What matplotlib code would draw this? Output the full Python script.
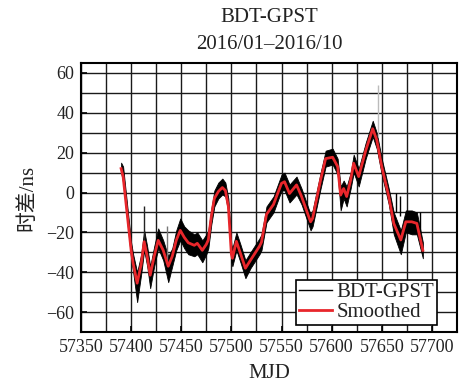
import matplotlib
matplotlib.use("Agg")
import matplotlib.pyplot as plt
from matplotlib.lines import Line2D
from matplotlib.ticker import MultipleLocator

plt.rcParams['font.family'] = ['Liberation Serif', 'Noto Sans CJK SC', 'DejaVu Sans']
plt.rcParams['axes.unicode_minus'] = True

# smoothed curve
mjd = [57390, 57392, 57400, 57402, 57406, 57410, 57413, 57416, 57419, 57423,
       57427, 57432, 57437, 57441, 57445, 57449, 57453, 57457, 57463, 57466,
       57471, 57475, 57477, 57480, 57483, 57487, 57491, 57494, 57497, 57500,
       57501, 57505, 57509, 57514, 57519, 57528, 57530, 57535, 57542, 57550,
       57553, 57558, 57565, 57570, 57579, 57581, 57589, 57594, 57601, 57606,
       57609, 57612, 57615, 57619, 57622, 57627, 57634, 57641, 57645, 57650,
       57657, 57662, 57669, 57674, 57680, 57685, 57691]
smooth = [12, 8, -29, -35.5, -45.5, -36, -24.7, -32, -41.5, -32,
          -24, -29, -37, -32, -24, -19, -22.5, -25.2, -26.5, -25.5,
          -29, -26, -23.8, -12, -3, 0.5, 2.5, 1, -7, -31,
          -33, -24.5, -30.5, -38, -34, -27, -25, -11, -6, 4.6,
          5.4, -0.5, 3.8, -2, -14.7, -13, 6.3, 17, 17.7, 13,
          -1.3, 2, -2, 6.3, 14.7, 8, 21, 32, 26.4, 13,
          -2, -15.5, -23.8, -14.7, -14.7, -15.5, -29]

# spread of the raw BDT-GPST samples (lower / upper edge of the black band)
raw_lo = [10, 5, -33, -40, -55, -41, -29, -37, -48, -37,
          -28, -34, -45, -37, -29, -24, -28, -31, -32, -31,
          -35, -31, -28, -16, -7, -3, -1, -2, -10, -35,
          -37, -29, -35, -43, -38, -31, -29, -15, -10, 1,
          1, -5, -1, -6, -19, -17, 2, 13, 14, 9,
          -9, -3, -7, 2, 10, 3, 17, 28, 22, 9,
          -6, -21, -31, -20, -21, -21, -33]
raw_hi = [15, 13, -25, -31, -40, -31, -19, -27, -37, -27,
          -18, -24, -32, -28, -19, -13, -17, -19, -21, -20,
          -24, -21, -19, -8, 1, 5, 7, 5, -3, -26,
          -28, -20, -26, -34, -30, -23, -21, -7, -2, 9,
          10, 4, 8, 2, -11, -9, 10, 21, 22, 17,
          3, 6, 3, 10, 19, 12, 25, 36, 30, 17,
          2, -10, -19, -9, -9, -10, -25]

# isolated outliers: mjd, bottom, top, colour
spike_mjd = [57413, 57436, 57646, 57664, 57668, 57688]
spike_lo = [-27, -35, 28, -10, -12, -20]
spike_hi = [-7, -17, 54, 0, -2, -10]
spike_col = ['#222222', '#777777', '#bbbbbb', 'black', 'black', 'black']

fig = plt.figure(figsize=(4.59, 3.84), dpi=100)
ax = fig.add_axes([0.1765, 0.1354, 0.819, 0.7006])

ax.fill_between(mjd, raw_lo, raw_hi, color='black', lw=0.6, zorder=2)
ax.vlines(spike_mjd, spike_lo, spike_hi, colors=spike_col, lw=1.0, zorder=2)
ax.plot(mjd, smooth, color='#e8262b', lw=2.0, zorder=3)

ax.set_xlim(57350, 57725)
ax.set_ylim(-70, 65)
ax.xaxis.set_major_locator(MultipleLocator(50))
ax.xaxis.set_minor_locator(MultipleLocator(25))
ax.yaxis.set_major_locator(MultipleLocator(20))
ax.yaxis.set_minor_locator(MultipleLocator(10))
ax.grid(True, which='both', color='#1a1a1a', lw=1.0)
ax.set_axisbelow(True)
ax.tick_params(which='major', direction='in', length=4, width=1.2,
               labelsize=13, pad=5, labelcolor='#222222')
ax.tick_params(which='minor', length=0)
for s in ax.spines.values():
    s.set_linewidth(1.5)

ax.set_title('BDT-GPST\n2016/01\u20132016/10', fontsize=15, linespacing=1.55,
             pad=10, color='#222222')
ax.set_xlabel('MJD', fontsize=15, labelpad=6, color='#222222')
ax.set_ylabel('时差/ns', fontsize=15, labelpad=6, color='#222222')

handles = [Line2D([], [], color='black', lw=1.0),
           Line2D([], [], color='#e8262b', lw=2.0)]
leg = ax.legend(handles, ['BDT-GPST', 'Smoothed'], loc='lower right',
                bbox_to_anchor=(0.947, 0.026), borderaxespad=0, fontsize=15,
                fancybox=False, framealpha=1, edgecolor='black',
                handlelength=1.6, handletextpad=0.2, labelspacing=0.0,
                borderpad=0.15)
leg.get_frame().set_linewidth(1.2)
for t in leg.get_texts():
    t.set_color('#222222')

fig.savefig('out.png', dpi=100)
